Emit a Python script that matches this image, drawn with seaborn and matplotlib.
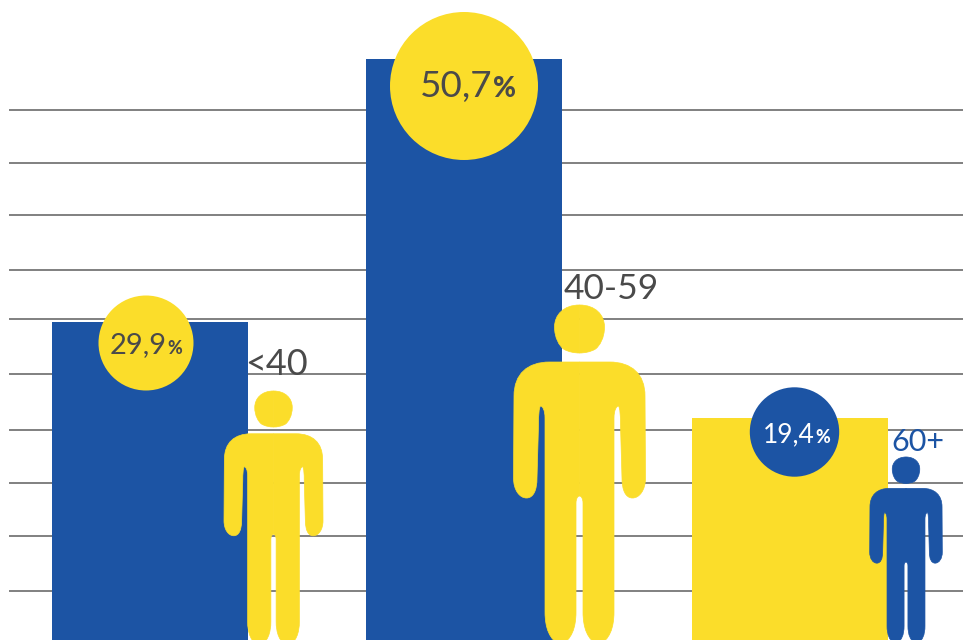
import matplotlib
matplotlib.use("Agg")
import matplotlib.pyplot as plt
from matplotlib.patches import Circle, PathPatch
from matplotlib.path import Path
import pandas as pd
import seaborn as sns

# values
age_groups = ["<40", "40-59", "60+"]
share_labels = ["29,9", "50,7", "19,4"]
bar_heights = [27.8, 50.7, 19.4]
bar_centers = [150, 464, 790]
grid_levels = [4.28, 9.08, 13.71, 18.34, 23.23, 28.03, 32.31, 37.12, 41.66, 46.29]

BLUE = "#1C54A4"
YELLOW = "#FBDD2A"
DARK = "#4A4A4A"
GRID = "#808080"

sns.set_theme(style="white")
plt.rcParams["font.family"] = ["Lato", "DejaVu Sans"]

W, H = 963, 640
fig = plt.figure(figsize=(W / 100, H / 100), dpi=100)
ax = fig.add_axes([0, 0, 1, 1])

df = pd.DataFrame({"center": bar_centers, "height": bar_heights, "age": age_groups})
ax.hlines(grid_levels, 9, W, color=GRID, lw=1.4, zorder=1)
sns.barplot(
    data=df, x="center", y="height", hue="age", hue_order=age_groups,
    palette=[BLUE, BLUE, YELLOW], saturation=1, native_scale=True,
    width=196 / 314, dodge=False, legend=False, ax=ax, zorder=2, linewidth=0,
)
ax.set_xlim(0, W)
ax.set_ylim(0, H / 11.45)
ax.axis("off")

# overlay in pixel units for the round badges and the figures
ov = fig.add_axes([0, 0, 1, 1], facecolor="none")
ov.set_xlim(0, W)
ov.set_ylim(H, 0)
ov.axis("off")

# half of the figure outline, as offsets from its centre line
BODY = [
    (Path.MOVETO, (0, 362)),
    (Path.LINETO, (30, 362)),
    (Path.CURVE4, (52, 362)), (Path.CURVE4, (65.5, 374)), (Path.CURVE4, (65.5, 396)),
    (Path.LINETO, (66, 478)),
    (Path.CURVE4, (66, 490)), (Path.CURVE4, (60, 498)), (Path.CURVE4, (53, 498)),
    (Path.CURVE4, (46, 498)), (Path.CURVE4, (42.5, 490)), (Path.CURVE4, (42.5, 478)),
    (Path.LINETO, (41, 425)),
    (Path.CURVE4, (41, 415)), (Path.CURVE4, (40.5, 408)), (Path.CURVE4, (39, 406)),
    (Path.CURVE4, (37, 406)), (Path.CURVE4, (34.5, 410)), (Path.CURVE4, (34.5, 418)),
    (Path.LINETO, (34.5, 612)),
    (Path.CURVE4, (34.5, 628)), (Path.CURVE4, (30, 640)), (Path.CURVE4, (19, 645)),
    (Path.CURVE4, (8, 640)), (Path.CURVE4, (3.5, 628)), (Path.CURVE4, (3.5, 612)),
    (Path.LINETO, (3.5, 503)),
    (Path.CURVE4, (3.5, 499)), (Path.CURVE4, (2, 496)), (Path.CURVE4, (0, 496)),
    (Path.CLOSEPOLY, (0, 496)),
]
HEAD = [
    (Path.MOVETO, (0, 305)),
    (Path.CURVE4, (16, 305)), (Path.CURVE4, (25, 315)), (Path.CURVE4, (25, 327)),
    (Path.CURVE4, (25, 338)), (Path.CURVE4, (20, 346)), (Path.CURVE4, (16, 349)),
    (Path.CURVE4, (11, 352)), (Path.CURVE4, (5, 353)), (Path.CURVE4, (0, 353)),
    (Path.CLOSEPOLY, (0, 353)),
]


def draw_person(cx, top, scale, color):
    for shape in (BODY, HEAD):
        codes = [c for c, _ in shape]
        for side in (-1, 1):
            verts = [(cx + side * p[0] * scale, top + (p[1] - 305) * scale) for _, p in shape]
            ov.add_patch(PathPatch(Path(verts, codes), fc=color, ec=color, lw=0.5, zorder=4))


def draw_badge(cx, cy, r, color, label, size, pct_size, text_x, text_y, text_color):
    ov.add_patch(Circle((cx, cy), r, fc=color, ec="none", zorder=3))
    t = ov.text(text_x, text_y, label, fontsize=size, color=text_color, ha="left", va="baseline", zorder=5)
    ov.annotate("%", xy=(1, 0), xycoords=t, xytext=(0.5, 1), textcoords="offset points",
                fontsize=pct_size, fontweight="black", color=text_color, ha="left", va="bottom", zorder=5)


draw_badge(146, 343, 47.5, YELLOW, share_labels[0], 21, 13, 110, 353, DARK)
draw_badge(464, 86, 74, YELLOW, share_labels[1], 26.5, 20, 420, 97, DARK)
draw_badge(794.5, 432, 44.7, BLUE, share_labels[2], 19, 13, 763, 442, "white")

draw_person(273.5, 391, 0.75, YELLOW)
draw_person(579.5, 305, 1.0, YELLOW)
draw_person(906, 457, 0.55, BLUE)

ov.text(245, 375, age_groups[0], fontsize=26, color=DARK, zorder=5)
ov.text(564, 299, age_groups[1], fontsize=25.5, color=DARK, zorder=5)
ov.text(891, 451, age_groups[2], fontsize=22, color=BLUE, zorder=5)

fig.savefig("out.png", dpi=100)
